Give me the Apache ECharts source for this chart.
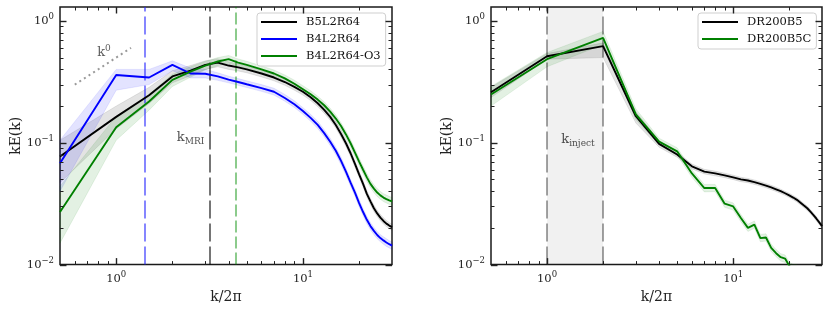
<!DOCTYPE html>
<html>
<head>
<meta charset="utf-8">
<script src="https://cdn.jsdelivr.net/npm/echarts@6/dist/echarts.min.js"></script>
<style>html,body{margin:0;padding:0;background:#fff;}#c{width:830px;height:309px;}</style>
</head>
<body>
<div id="c"></div>
<script>
// ---------- data (left panel) ----------
const kLeft = [0.5,1,1.5,2,2.5,3,3.5,4,4.5,5,6,7,8,9,10,11,12,13,14,15,16,17,18,19,20,21,22,23,24,25,26,27,28,29,30];
const b5l2r64 = [0.077,0.163,0.245,0.35,0.39,0.435,0.455,0.43,0.415,0.40,0.37,0.343,0.315,0.287,0.262,0.236,0.211,0.186,0.163,0.14,0.118,0.099,0.082,0.067,0.055,0.046,0.038,0.033,0.029,0.0263,0.0243,0.0228,0.0217,0.0209,0.0203];
const b5l2r64Lo = [0.047,0.13,0.21,0.31,0.355,0.40,0.42,0.40,0.388,0.375,0.347,0.322,0.296,0.27,0.246,0.222,0.198,0.175,0.153,0.132,0.111,0.093,0.077,0.063,0.052,0.0433,0.0358,0.031,0.0273,0.0248,0.0229,0.0215,0.0205,0.0197,0.0191];
const b5l2r64Hi = [0.105,0.20,0.285,0.39,0.43,0.47,0.49,0.462,0.443,0.426,0.394,0.365,0.335,0.305,0.279,0.251,0.225,0.198,0.174,0.149,0.126,0.105,0.087,0.071,0.0585,0.049,0.0404,0.035,0.0308,0.0279,0.0258,0.0242,0.023,0.0221,0.0215];
const b4l2r64 = [0.068,0.36,0.343,0.435,0.37,0.368,0.35,0.33,0.315,0.302,0.281,0.262,0.233,0.207,0.182,0.16,0.14,0.12,0.102,0.086,0.071,0.058,0.047,0.039,0.032,0.027,0.0233,0.0207,0.0189,0.0175,0.0165,0.0158,0.0152,0.0147,0.0143];
const b4l2r64Lo = [0.04,0.27,0.30,0.39,0.34,0.34,0.325,0.31,0.296,0.284,0.264,0.246,0.219,0.195,0.171,0.15,0.131,0.112,0.095,0.08,0.066,0.054,0.044,0.0364,0.0299,0.0252,0.0217,0.0193,0.0176,0.0163,0.0154,0.0147,0.0141,0.0137,0.0133];
const b4l2r64Hi = [0.105,0.40,0.40,0.47,0.41,0.40,0.375,0.352,0.336,0.322,0.30,0.28,0.249,0.221,0.194,0.171,0.15,0.128,0.109,0.092,0.076,0.062,0.05,0.0417,0.0342,0.0289,0.0249,0.0221,0.0202,0.0187,0.0176,0.0169,0.0163,0.0157,0.0153];
const b4l2r64o3 = [0.027,0.134,0.218,0.328,0.384,0.43,0.464,0.485,0.455,0.435,0.40,0.37,0.337,0.305,0.275,0.25,0.226,0.203,0.18,0.158,0.137,0.117,0.099,0.083,0.07,0.06,0.052,0.046,0.042,0.039,0.037,0.0355,0.0345,0.0337,0.033];
const b4l2r64o3Lo = [0.015,0.105,0.185,0.29,0.345,0.395,0.43,0.45,0.425,0.405,0.375,0.347,0.316,0.286,0.258,0.235,0.212,0.19,0.169,0.148,0.128,0.109,0.092,0.077,0.065,0.0557,0.0483,0.0428,0.039,0.0362,0.0343,0.0329,0.032,0.0312,0.0305];
const b4l2r64o3Hi = [0.044,0.165,0.25,0.365,0.42,0.465,0.50,0.52,0.487,0.466,0.427,0.395,0.36,0.326,0.294,0.267,0.241,0.217,0.192,0.169,0.146,0.125,0.106,0.089,0.075,0.0645,0.056,0.0495,0.0452,0.042,0.0398,0.0382,0.0372,0.0363,0.0356];
const kVertLeft = [1.42, 3.16, 4.36];        // blue, gray (k_MRI), green
const refLine = [[0.6, 0.3], [1.2, 0.6]];     // k^0 guide

// ---------- data (right panel) ----------
const kRight = [0.5,1,2,3,4,5,6,7,8,9,10,11,12,13,14,15,16,17,18,19,20,21,22,23,24,25,26,27,28,29,30];
const dr200b5 = [0.26,0.513,0.62,0.165,0.098,0.08,0.064,0.058,0.056,0.054,0.052,0.05,0.049,0.0475,0.046,0.0445,0.043,0.0415,0.040,0.0385,0.037,0.0355,0.034,0.0322,0.0305,0.029,0.0272,0.0255,0.0238,0.0222,0.0207];
const dr200b5Lo = [0.235,0.485,0.50,0.145,0.092,0.076,0.061,0.0555,0.0535,0.0517,0.0498,0.0479,0.047,0.0455,0.0441,0.0427,0.0412,0.0398,0.0384,0.037,0.0355,0.0341,0.0326,0.0309,0.0293,0.0278,0.0261,0.0245,0.0228,0.0213,0.0198];
const dr200b5Hi = [0.285,0.54,0.66,0.18,0.104,0.084,0.067,0.0605,0.0585,0.0563,0.0542,0.0521,0.051,0.0495,0.0479,0.0463,0.0448,0.0432,0.0416,0.04,0.0385,0.0369,0.0354,0.0335,0.0317,0.0302,0.0283,0.0265,0.0248,0.0231,0.0216];
const dr200b5c = [0.249,0.485,0.726,0.171,0.102,0.085,0.056,0.0425,0.0425,0.0316,0.030,0.0241,0.020,0.0213,0.0165,0.0167,0.0137,0.0124,0.0115,0.0112,0.0098,0.0088,0.0079];
const dr200b5cLo = [0.20,0.42,0.64,0.155,0.096,0.079,0.052,0.0395,0.0397,0.0295,0.028,0.0225,0.0187,0.0199,0.0154,0.0156,0.0128,0.0116,0.0107,0.0104,0.0091,0.0082,0.0073];
const dr200b5cHi = [0.29,0.55,0.82,0.19,0.109,0.091,0.060,0.0455,0.0455,0.0338,0.0321,0.0258,0.0214,0.0228,0.0177,0.0179,0.0147,0.0133,0.0123,0.012,0.0105,0.0094,0.0085];
const kInject = [1, 2];

// ---------- ticks ----------
const xMajor = [1, 10];
const xMinor = [0.6,0.7,0.8,0.9,2,3,4,5,6,7,8,9,20];
const yMajor = [0.01, 0.1, 1];
const yMinor = [0.02,0.03,0.04,0.05,0.06,0.07,0.08,0.09,0.2,0.3,0.4,0.5,0.6,0.7,0.8,0.9];

const FONT = 'DejaVu Serif';
const chart = echarts.init(document.getElementById('c'), null, {renderer: 'canvas'});

function pairs(ks, vs) { return vs.map((v, i) => [ks[i], v]); }

function powLabel(v) {
  const e = Math.round(Math.log10(v));
  if (Math.abs(v - Math.pow(10, e)) > 1e-9 * Math.pow(10, e)) return '';
  return '{b|10}{s|' + (e < 0 ? '\u2212' + (-e) : e) + '}';
}
const labelRich = {
  b: {fontFamily: FONT, fontSize: 11.5, color: '#222'},
  s: {fontFamily: FONT, fontSize: 8.5, color: '#222', padding: [0, 0, 8, 0]}
};

function tickData() {
  const d = [];
  xMajor.forEach(v => d.push([v, 0.1, 0]));
  xMinor.forEach(v => d.push([v, 0.1, 1]));
  yMajor.forEach(v => d.push([1, v, 2]));
  yMinor.forEach(v => d.push([1, v, 3]));
  return d;
}
function tickRender(params, api) {
  const kind = api.value(2);
  const p = api.coord([api.value(0), api.value(1)]);
  const cs = params.coordSys;
  const major = (kind === 0 || kind === 2);
  const len = major ? 6.5 : 3.5;
  const st = {stroke: '#222', lineWidth: major ? 1.4 : 1};
  if (kind < 2) {
    const x = Math.round(p[0]) + 0.5;
    return {type: 'group', children: [
      {type: 'line', shape: {x1: x, y1: cs.y + cs.height, x2: x, y2: cs.y + cs.height - len}, style: st},
      {type: 'line', shape: {x1: x, y1: cs.y, x2: x, y2: cs.y + len}, style: st}
    ]};
  }
  const y = Math.round(p[1]) + 0.5;
  return {type: 'group', children: [
    {type: 'line', shape: {x1: cs.x, y1: y, x2: cs.x + len, y2: y}, style: st},
    {type: 'line', shape: {x1: cs.x + cs.width, y1: y, x2: cs.x + cs.width - len, y2: y}, style: st}
  ]};
}
function tickSeries(i) {
  return {type: 'custom', xAxisIndex: i, yAxisIndex: i, data: tickData(), encode: {x: 0, y: 1},
          renderItem: tickRender, silent: true, z: 10, clip: false};
}
function bandSeries(i, ks, lo, hi, color) {
  return {type: 'custom', xAxisIndex: i, yAxisIndex: i, data: [[1, 0.1]], encode: {x: 0, y: 1},
    silent: true, z: 1,
    renderItem: function (params, api) {
      const pts = [];
      for (let j = 0; j < ks.length; j++) pts.push(api.coord([ks[j], hi[j]]));
      for (let j = ks.length - 1; j >= 0; j--) pts.push(api.coord([ks[j], lo[j]]));
      const cs = params.coordSys;
      const clipped = echarts.graphic.clipPointsByRect(pts, {x: cs.x, y: cs.y, width: cs.width, height: cs.height});
      return {type: 'polygon', shape: {points: clipped},
              style: {fill: color, stroke: color, lineWidth: 0.8}};
    }};
}
function lineSeries(i, name, ks, vs, color) {
  return {type: 'line', name: name, xAxisIndex: i, yAxisIndex: i, data: pairs(ks, vs),
          symbol: 'none', lineStyle: {color: color, width: 1.9}, itemStyle: {color: color},
          z: 5, clip: true, animation: false};
}
function vLine(i, k, color, width, dash) {
  return {type: 'line', xAxisIndex: i, yAxisIndex: i, data: [], symbol: 'none',
    markLine: {silent: true, symbol: ['none', 'none'], label: {show: false},
      lineStyle: {color: color, width: width, type: dash},
      data: [{xAxis: k}]}, z: 4};
}
function textSeries(i, x, y, rich, fmt) {
  return {type: 'scatter', xAxisIndex: i, yAxisIndex: i, data: [[x, y]], symbolSize: 1,
    itemStyle: {color: 'rgba(0,0,0,0)'}, silent: true, z: 6,
    label: {show: true, position: 'inside', formatter: fmt, rich: rich}};
}

function xAxisCfg(i) {
  return {type: 'log', logBase: 10, gridIndex: i, min: 0.5, max: 30,
    name: 'k/2\u03c0', nameLocation: 'middle', nameGap: 20,
    nameTextStyle: {fontFamily: FONT, fontSize: 14, color: '#222'},
    axisLine: {show: false}, axisTick: {show: false}, splitLine: {show: false}, minorTick: {show: false},
    axisLabel: {formatter: powLabel, rich: labelRich, margin: 6, showMinLabel: true, showMaxLabel: true}};
}
function yAxisCfg(i) {
  return {type: 'log', logBase: 10, gridIndex: i, min: 0.01, max: 1.3,
    name: 'kE(k)', nameLocation: 'middle', nameGap: 37, nameRotate: 90,
    nameTextStyle: {fontFamily: FONT, fontSize: 14, color: '#222'},
    axisLine: {show: false}, axisTick: {show: false}, splitLine: {show: false}, minorTick: {show: false},
    axisLabel: {formatter: powLabel, rich: labelRich, margin: 6}};
}

const subRich = {
  k: {fontFamily: FONT, fontSize: 13, color: '#222'},
  sub: {fontFamily: FONT, fontSize: 9, color: '#222', padding: [7, 0, 0, 0]},
  sup: {fontFamily: FONT, fontSize: 9, color: '#333', padding: [0, 0, 8, 0]},
  kg: {fontFamily: FONT, fontSize: 13, color: '#333'}
};

const legendCommon = {orient: 'vertical', itemWidth: 36, itemHeight: 2, itemGap: 5, icon: 'rect',
  padding: [3, 5, 4, 4], borderColor: '#cfcfcf', borderWidth: 1, borderRadius: 3,
  backgroundColor: 'rgba(255,255,255,0.85)', selectedMode: false,
  textStyle: {fontFamily: FONT, fontSize: 11.5, color: '#111', lineHeight: 12, padding: [0, 0, 0, 4]}};

const option = {
  animation: false,
  backgroundColor: '#fff',
  grid: [
    {left: 60, top: 7, width: 332, height: 258, show: true, borderColor: '#1a1a1a', borderWidth: 1.5, backgroundColor: 'transparent'},
    {left: 491, top: 7, width: 331, height: 258, show: true, borderColor: '#1a1a1a', borderWidth: 1.5, backgroundColor: 'transparent'}
  ],
  xAxis: [xAxisCfg(0), xAxisCfg(1)],
  yAxis: [yAxisCfg(0), yAxisCfg(1)],
  legend: [
    Object.assign({left: 257, top: 13, data: ['B5L2R64', 'B4L2R64', 'B4L2R64-O3']}, legendCommon),
    Object.assign({left: 698, top: 13, data: ['DR200B5', 'DR200B5C']}, legendCommon)
  ],
  series: [
    // left panel
    bandSeries(0, kLeft, b5l2r64Lo, b5l2r64Hi, 'rgba(0,0,0,0.11)'),
    bandSeries(0, kLeft, b4l2r64Lo, b4l2r64Hi, 'rgba(0,0,255,0.11)'),
    bandSeries(0, kLeft, b4l2r64o3Lo, b4l2r64o3Hi, 'rgba(0,128,0,0.11)'),
    vLine(0, kVertLeft[0], 'rgba(40,40,255,0.7)', 1.6, [18, 5]),
    vLine(0, kVertLeft[1], 'rgba(0,0,0,0.6)', 1.8, [18, 5]),
    vLine(0, kVertLeft[2], 'rgba(0,140,0,0.6)', 1.5, [12, 4]),
    {type: 'line', xAxisIndex: 0, yAxisIndex: 0, data: refLine, symbol: 'none',
     lineStyle: {color: '#999', width: 2, type: [2, 3.5]}, z: 4},
    lineSeries(0, 'B5L2R64', kLeft, b5l2r64, '#000000'),
    lineSeries(0, 'B4L2R64', kLeft, b4l2r64, '#0000ff'),
    lineSeries(0, 'B4L2R64-O3', kLeft, b4l2r64o3, '#008000'),
    textSeries(0, 0.86, 0.55, subRich, '{kg|k}{sup|0}'),
    textSeries(0, 2.5, 0.11, subRich, '{k|k}{sub|MRI}'),
    tickSeries(0),
    // right panel
    {type: 'line', xAxisIndex: 1, yAxisIndex: 1, data: [], symbol: 'none',
     markArea: {silent: true, itemStyle: {color: 'rgba(0,0,0,0.055)'}, data: [[{xAxis: kInject[0]}, {xAxis: kInject[1]}]]},
     markLine: {silent: true, symbol: ['none', 'none'], label: {show: false},
       lineStyle: {color: 'rgba(0,0,0,0.4)', width: 1.8, type: [18, 5]},
       data: [{xAxis: kInject[0]}, {xAxis: kInject[1]}]}, z: 0},
    bandSeries(1, kRight, dr200b5Lo, dr200b5Hi, 'rgba(0,0,0,0.11)'),
    bandSeries(1, kRight.slice(0, dr200b5c.length), dr200b5cLo, dr200b5cHi, 'rgba(0,128,0,0.11)'),
    lineSeries(1, 'DR200B5', kRight, dr200b5, '#000000'),
    lineSeries(1, 'DR200B5C', kRight, dr200b5c, '#008000'),
    textSeries(1, 1.466, 0.106, subRich, '{k|k}{sub|inject}'),
    tickSeries(1)
  ]
};
chart.setOption(option);
</script>
</body>
</html>
